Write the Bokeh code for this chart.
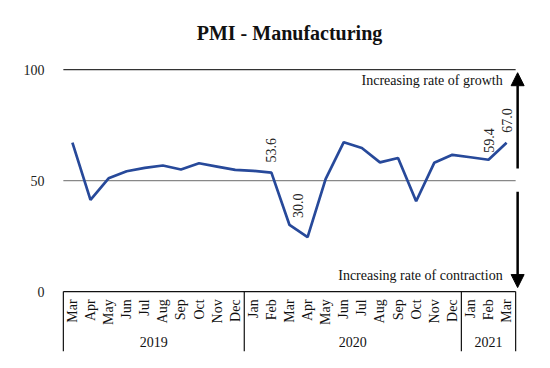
import math
from bokeh.plotting import figure
from bokeh.models import (FactorRange, Range1d, FixedTicker, ColumnDataSource,
                          Arrow, NormalHead)
from bokeh.core.properties import value
from bokeh.embed import file_html
from bokeh.resources import INLINE

# ---------------- data ----------------
years = ["2019"] * 10 + ["2020"] * 12 + ["2021"] * 3
months = ["Mar", "Apr", "May", "Jun", "Jul", "Aug", "Sep", "Oct", "Nov", "Dec",
          "Jan", "Feb", "Mar", "Apr", "May", "Jun", "Jul", "Aug", "Sep", "Oct", "Nov", "Dec",
          "Jan", "Feb", "Mar"]
pmi = [67.1, 41.3, 51.0, 54.2, 55.7, 56.8, 55.0, 57.8, 56.3, 54.8,
       54.4, 53.6, 30.0, 24.5, 50.8, 67.3, 64.7, 58.2, 60.2, 40.7, 58.0, 61.6,
       60.5, 59.4, 67.0]
labelled_idx = [11, 12, 23, 24]
year_names = ["2019", "2020", "2021"]
y_ticks = [0, 50, 100]
growth_text = "Increasing rate of growth"
contraction_text = "Increasing rate of contraction"
title_text = "PMI - Manufacturing"

SERIF = "Liberation Serif"
LINE_BLUE = "#27499a"
FS = "14px"

factors = list(zip(years, months))
n = len(factors)

# boundaries of year groups (synthetic coordinates)
bounds = [0]
for y in year_names:
    bounds.append(bounds[-1] + years.count(y))

x_range = FactorRange(*factors, factor_padding=0, subgroup_padding=0, group_padding=0,
                      range_padding=0.6, range_padding_units="absolute")
y_range = Range1d(-27, 105)

p = figure(width=534, height=352, x_range=x_range, y_range=y_range,
           output_backend="svg", toolbar_location=None, x_axis_location=None,
           min_border_left=52, min_border_right=8, min_border_top=58, min_border_bottom=1)
p.outline_line_color = None
p.xgrid.grid_line_color = None
p.ygrid.grid_line_color = None

# title
p.title.text = title_text
p.title.align = "center"
p.title.text_font = SERIF
p.title.text_font_size = "20px"
p.title.text_font_style = "bold"
p.title.text_color = "#111111"
p.title.standoff = 30
p.title.offset = -13

# y axis
p.yaxis.ticker = FixedTicker(ticks=y_ticks)
p.yaxis.axis_line_color = None
p.yaxis.major_tick_line_color = None
p.yaxis.minor_tick_line_color = None
p.yaxis.major_label_text_font = SERIF
p.yaxis.major_label_text_font_size = FS
p.yaxis.major_label_text_color = "#222222"
p.yaxis.major_label_standoff = 2

# horizontal reference lines
grid_src = ColumnDataSource(dict(x0=[bounds[0]] * 3, x1=[bounds[-1]] * 3,
                                 y=[y_ticks[2], y_ticks[1], y_ticks[0]],
                                 c=["#333333", "#888888", "#111111"]))
p.segment(x0="x0", y0="y", x1="x1", y1="y", line_color="c", line_width=1.2, source=grid_src)

# vertical category box lines
sep_src = ColumnDataSource(dict(x=bounds, y0=[0] * len(bounds), y1=[-27] * len(bounds)))
p.segment(x0="x", y0="y0", x1="x", y1="y1", line_color="#111111", line_width=1.2, source=sep_src)

# month labels
month_src = ColumnDataSource(dict(x=factors, y=[-3.5] * n, t=months))
p.text(x="x", y="y", text="t", source=month_src, angle=math.pi / 2,
       text_align="right", text_baseline="middle", text_font=value(SERIF),
       text_font_size=FS, text_color="#111111")

# year labels
year_src = ColumnDataSource(dict(x=year_names, y=[-22.5] * len(year_names), t=year_names))
p.text(x="x", y="y", text="t", source=year_src, text_align="center",
       text_baseline="middle", text_font=value(SERIF), text_font_size=FS,
       text_color="#111111")

# the PMI line
src = ColumnDataSource(dict(x=factors, y=pmi))
p.line(x="x", y="y", source=src, line_color=LINE_BLUE, line_width=2.7)

# data labels
lab_dx = {12: 8}
lab_dy = {12: -7, 23: -7}
lab_src = ColumnDataSource(dict(
    x=[factors[i] for i in labelled_idx],
    y=[pmi[i] for i in labelled_idx],
    t=["%.1f" % pmi[i] for i in labelled_idx],
    dx=[lab_dx.get(i, 0) for i in labelled_idx],
    dy=[lab_dy.get(i, -10) for i in labelled_idx]))
p.text(x="x", y="y", text="t", source=lab_src, angle=math.pi / 2,
       x_offset="dx", y_offset="dy", text_align="left", text_baseline="middle",
       text_font=value(SERIF), text_font_size=FS, text_color="#222222")

# growth / contraction annotations
ann_src = ColumnDataSource(dict(x=[bounds[-1], bounds[-1]], y=[95, 7.3],
                                t=[growth_text, contraction_text]))
p.text(x="x", y="y", text="t", source=ann_src, x_offset=-13, text_align="right",
       text_baseline="middle", text_font=value(SERIF), text_font_size=FS,
       text_color="#111111")

ax = bounds[-1] + 0.11
p.add_layout(Arrow(end=NormalHead(size=13, fill_color="black", line_color="black"),
                   x_start=ax, y_start=55.4, x_end=ax, y_end=98.6,
                   line_width=2.5, line_color="black"))
p.add_layout(Arrow(end=NormalHead(size=13, fill_color="black", line_color="black"),
                   x_start=ax, y_start=45.0, x_end=ax, y_end=1.8,
                   line_width=2.5, line_color="black"))

open("out.html", "w").write(file_html(p, INLINE))
